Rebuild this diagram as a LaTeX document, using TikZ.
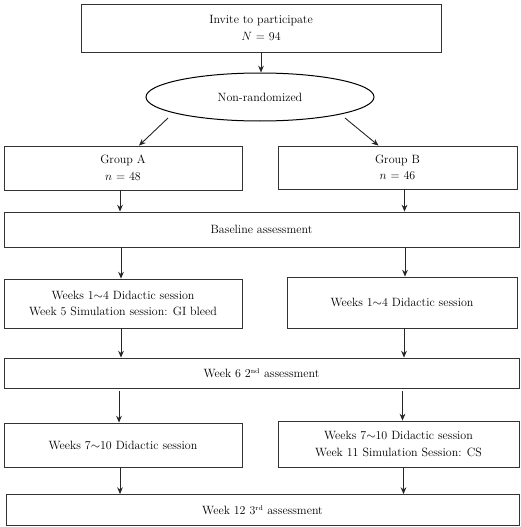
\documentclass[tikz,border=0pt]{standalone}
\usepackage{tikz}
\usetikzlibrary{arrows.meta,calc,positioning,shapes.geometric}

\begin{document}
\begin{tikzpicture}[
    x=1pt, y=1pt,
    font=\fontsize{12}{16.5}\selectfont,
    box/.style={draw=black!80, line width=0.8pt, align=center, inner sep=2pt},
    oval/.style={ellipse, draw=black, line width=1pt, align=center},
    arrow/.style={-{Stealth[length=2.4mm, width=2mm]}, line width=0.9pt, black!85}
]
\useasboundingbox (0,0) rectangle (521,-527);
\node[box, minimum width=360pt, minimum height=48pt] (invite) at (261,-28)
    {Invite to participate\\$N$ = 94};
\node[oval, minimum width=228pt, minimum height=48pt] (nonrand) at (260,-97)
    {Non-randomized};
\node[box, minimum width=238pt, minimum height=44pt] (grpa) at (123,-168)
    {Group A\\$n$ = 48};
\node[box, minimum width=239pt, minimum height=43pt] (grpb) at (397.5,-167.5)
    {Group B\\$n$ = 46};
\node[box, minimum width=515pt, minimum height=35pt] (base) at (261.5,-229.5)
    {Baseline assessment};
\node[box, minimum width=238pt, minimum height=49pt] (wka) at (123,-303.5)
    {Weeks 1$\sim$4 Didactic session\\Week 5 Simulation session: GI bleed};
\node[box, minimum width=230pt, minimum height=51pt] (wkb) at (402,-302.5)
    {Weeks 1$\sim$4 Didactic session};
\node[box, minimum width=515pt, minimum height=30pt] (wksix) at (261.5,-373)
    {Week 6 2\textsuperscript{\scriptsize nd} assessment};
\node[box, minimum width=238pt, minimum height=44pt] (lata) at (123,-445)
    {Weeks 7$\sim$10 Didactic session};
\node[box, minimum width=241pt, minimum height=46pt] (latb) at (398.5,-444)
    {Weeks 7$\sim$10 Didactic session\\Week 11 Simulation Session: CS};
\node[box, minimum width=513pt, minimum height=31pt] (wktwelve) at (262.5,-510)
    {Week 12 3\textsuperscript{\scriptsize rd} assessment};

\draw[arrow] (invite.south) -- (invite.south |- nonrand.north);
\draw[arrow] ($(nonrand.center)+(-92,-21)$) -- ($(grpa.north)+(16,0)$);
\draw[arrow] ($(nonrand.center)+(85,-21)$) -- ($(grpb.north)+(-19,0)$);
\draw[arrow] ($(grpa.south)+(-3,0)$) -- ($(grpa.south |- base.north)+(-3,0)$);
\draw[arrow] ($(grpb.south)+(7,0)$) -- ($(grpb.south |- base.north)+(7,0)$);
\draw[arrow] ($(wka.north |- base.south)+(-2,0)$) -- ($(wka.north)+(-2,0)$);
\draw[arrow] ($(wkb.north |- base.south)+(3,0)$) -- ($(wkb.north)+(3,0)$);
\draw[arrow] ($(wka.south)+(-2,0)$) -- ($(wka.south |- wksix.north)+(-2,0)$);
\draw[arrow] ($(wkb.south)+(2,0)$) -- ($(wkb.south |- wksix.north)+(2,0)$);
\draw[arrow] ($(lata.north |- wksix.south)+(-4,-3)$) -- ($(lata.north)+(-4,0)$);
\draw[arrow] ($(latb.north |- wksix.south)+(4,-3)$) -- ($(latb.north)+(4,0)$);
\draw[arrow] ($(lata.south)+(-3,0)$) -- ($(lata.south |- wktwelve.north)+(-3,0)$);
\draw[arrow] ($(latb.south)+(5,0)$) -- ($(latb.south |- wktwelve.north)+(5,0)$);
\end{tikzpicture}
\end{document}
